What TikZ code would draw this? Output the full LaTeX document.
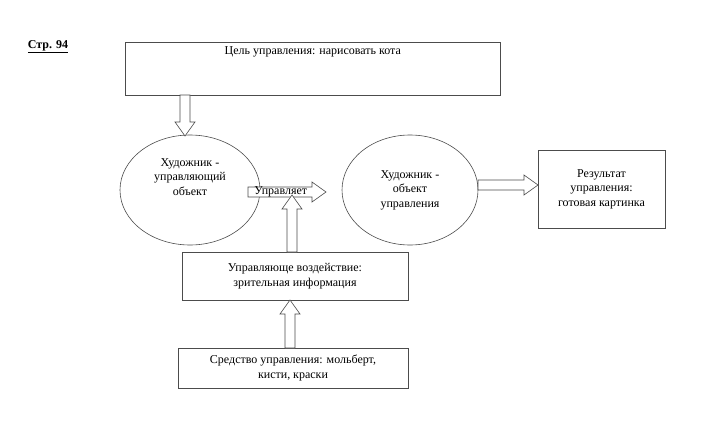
\documentclass[tikz,border=0pt]{standalone}
\usepackage{fontspec}
\setmainfont{Liberation Serif}
\usetikzlibrary{calc,shapes.geometric}
\tikzset{
  box/.style={draw=black!70, line width=0.6pt, align=center, inner sep=4pt},
  oval/.style={draw=black!70, line width=0.6pt, ellipse, align=center, minimum width=140pt, minimum height=110pt},
  hollow/.style={draw=black!70, line width=0.6pt, fill=white, line join=miter},
}
% hollow block arrow from #1 to #2
\newcommand{\harrow}[2]{%
  \coordinate (hq) at ($(#2)!14pt!(#1)$);
  \draw[hollow] ($(#1)!5pt!90:(#2)$) -- ($(hq)!5pt!-90:(#1)$) -- ($(hq)!10pt!-90:(#1)$) -- (#2)
    -- ($(hq)!10pt!90:(#1)$) -- ($(hq)!5pt!90:(#1)$) -- ($(#1)!5pt!-90:(#2)$) -- cycle;}
\begin{document}
\begin{tikzpicture}[x=1pt, y=-1pt, font=\fontsize{12}{14.5}\selectfont]
	\useasboundingbox (0,0) rectangle (720,444);
	
	\node[font=\bfseries\fontsize{12}{14}\selectfont] (page) at (48,47) {\underline{Стр. 94}};
	\node[box, minimum width=375pt, minimum height=53pt, anchor=north west, text depth=36pt] (goal) at (125,42) {Цель управления: нарисовать кота};
	
	\node[oval] (boss) at (190,190) {Художник -\\управляющий\\объект\\[12pt]};
	\node[oval, minimum width=136pt] (obj) at (410,190) {Художник -\\объект\\управления};
	\node[box, minimum width=127pt, minimum height=78pt] (res) at (601.5,189) {Результат\\управления:\\готовая картинка};
	\node[box, minimum width=226pt, minimum height=48pt] (act) at (295,276) {Управляюще воздействие:\\зрительная информация};
	\node[box, minimum width=230pt, minimum height=40pt] (tool) at (293,368) {Средство управления: мольберт,\\кисти, краски};
	
	\coordinate (c1) at (185,95);
	\coordinate (c2) at (185,136);
	\coordinate (c3) at (248,192);
	\coordinate (c4) at (326,192);
	\coordinate (c5) at (292,195);
	\coordinate (c6) at (290,348);
	\coordinate (c7) at (290,300);
	\coordinate (c8) at (292,252);
	\coordinate (c9) at (478,185);
	\coordinate (c10) at (538,185);
	
	\harrow{c1}{c2}
	\harrow{c3}{c4}
	\harrow{c8}{c5}
	\harrow{c6}{c7}
	\harrow{c9}{c10}
	\node (lbl) at ($(c3)!0.42!(c4)$) {Управляет};
	
\end{tikzpicture}
\end{document}
